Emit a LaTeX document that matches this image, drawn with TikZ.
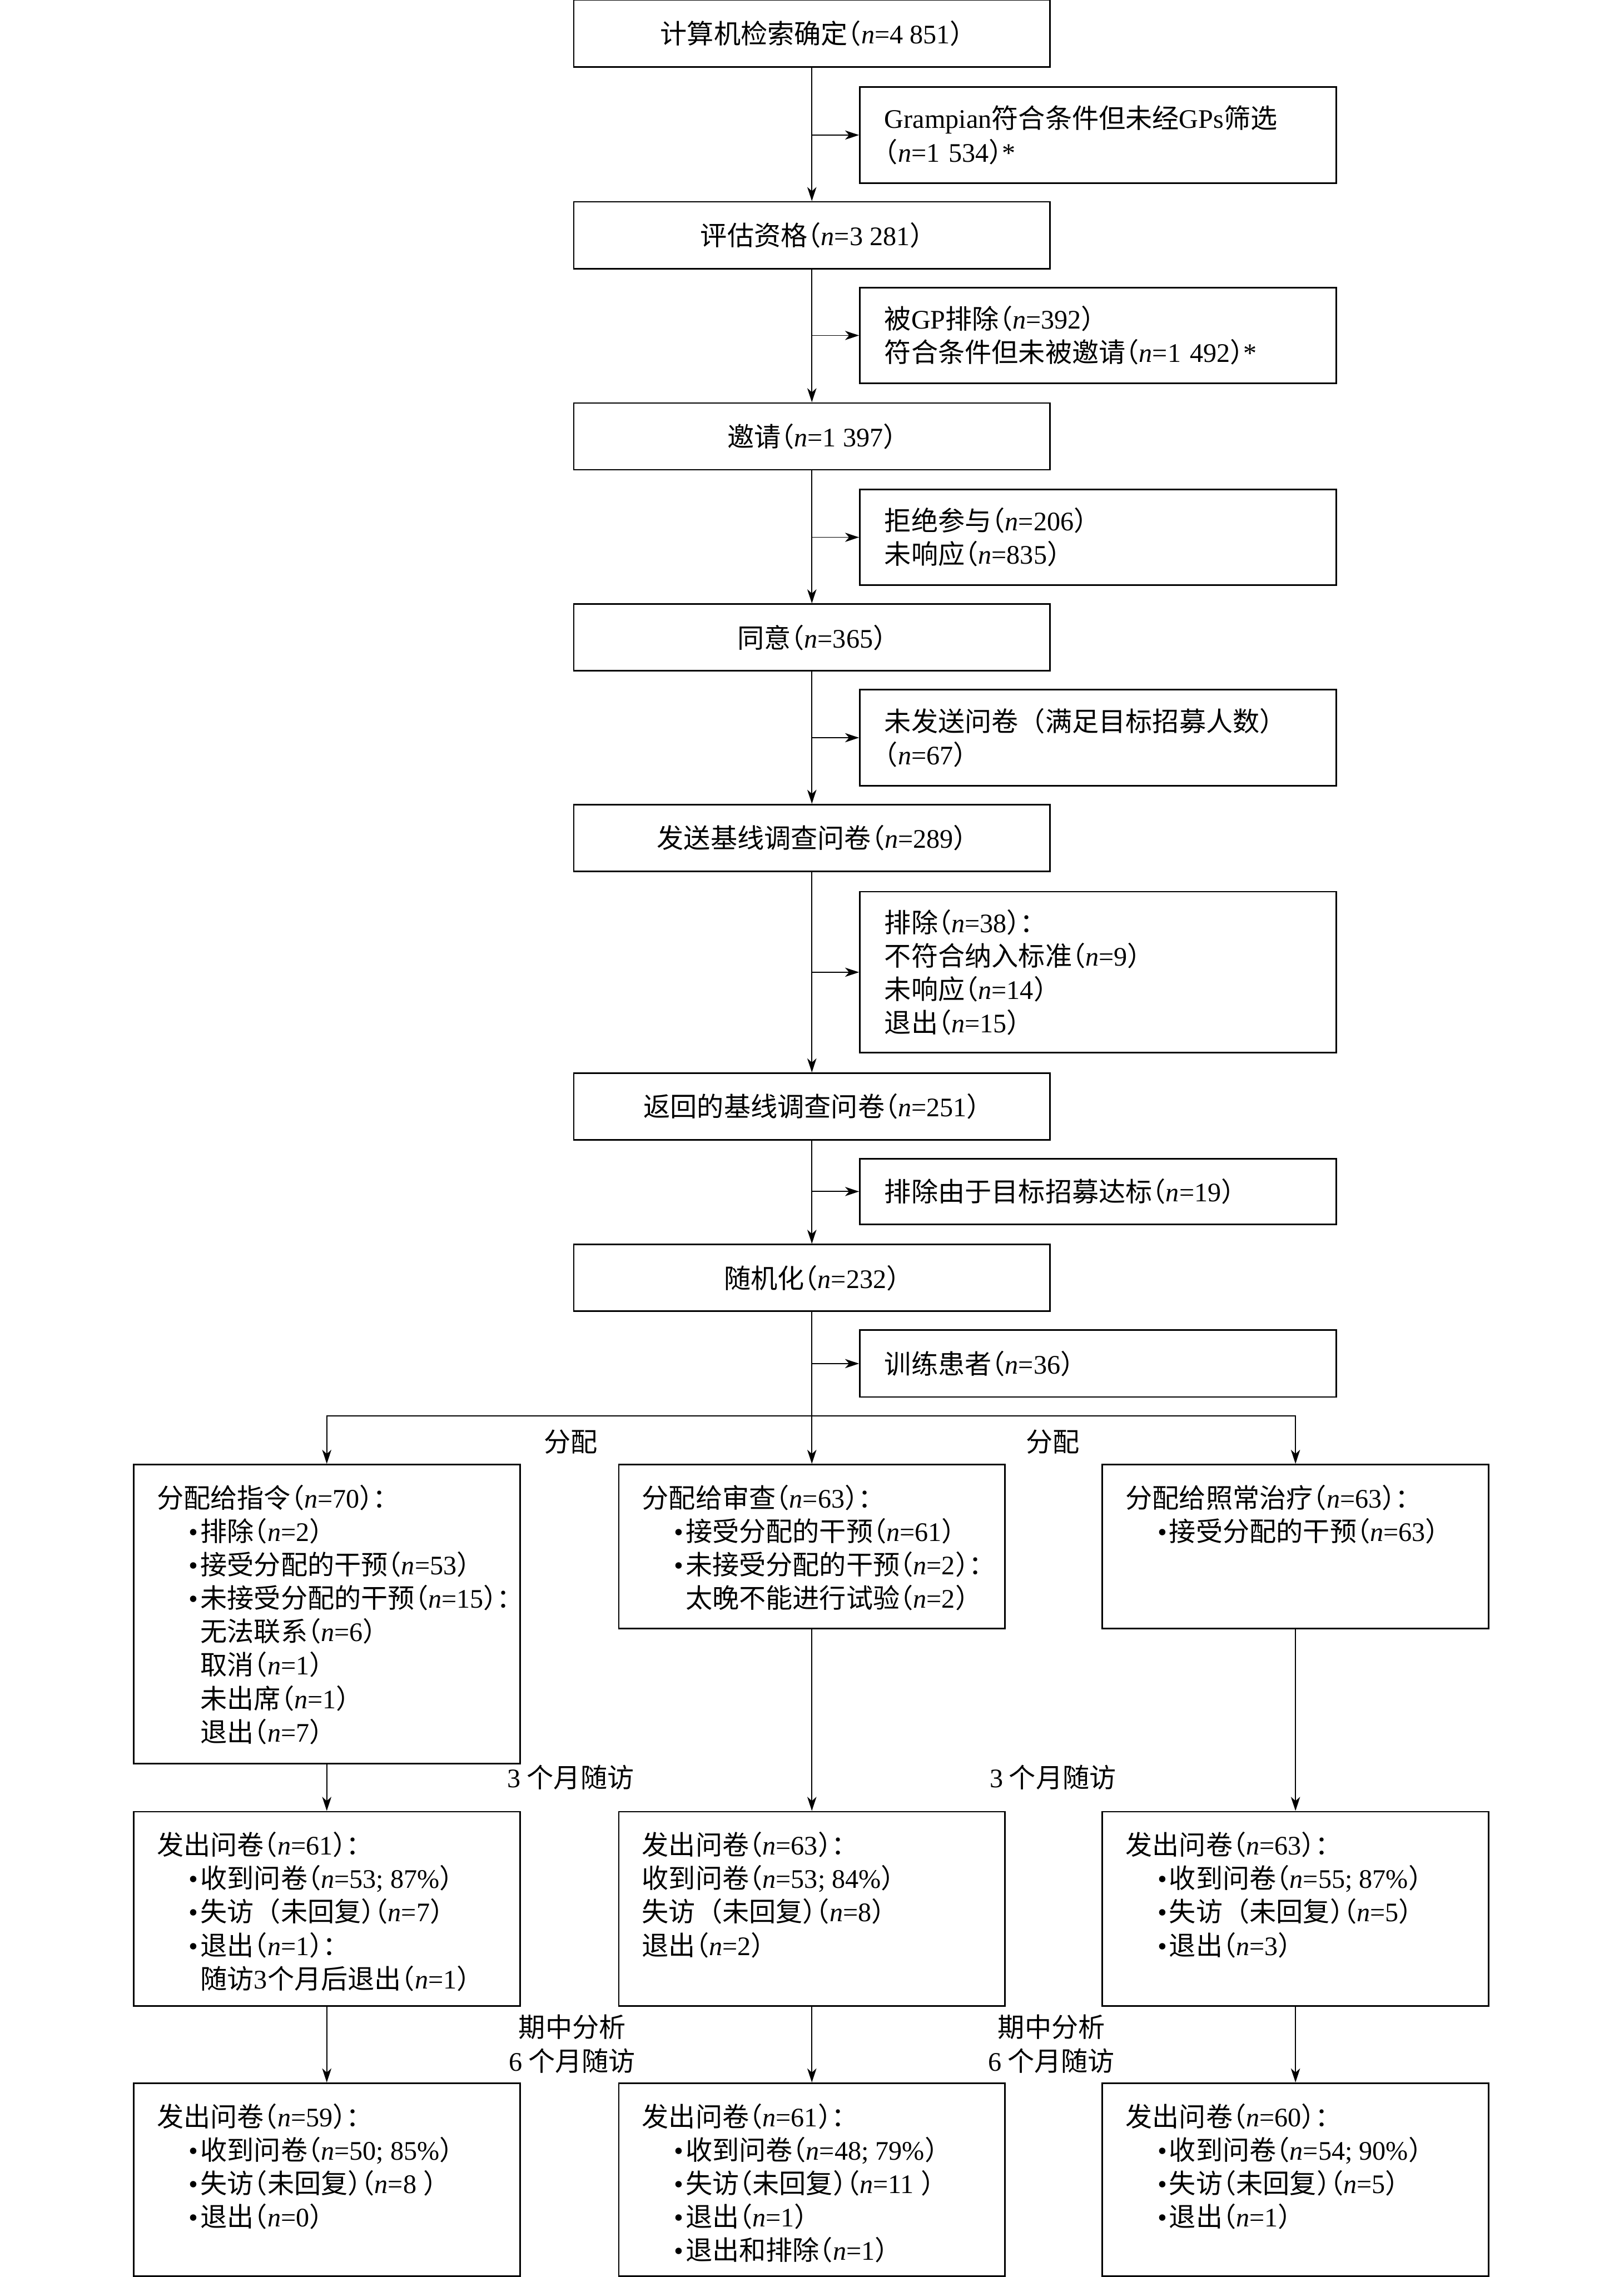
\documentclass[tikz,border=0pt]{standalone}
\usepackage{fontspec}
\setmainfont{Noto Sans CJK SC}[RawFeature=+halt]
\newfontfamily\cjkfull{Noto Sans CJK SC}
\newfontfamily\lat{Liberation Serif}
\usetikzlibrary{arrows.meta}

\newcommand\nval[1]{（{\lat\itshape n}{\lat =#1}）}
\newcommand\wpar{{\cjkfull （}}
\newcommand\itm{\hspace*{0.44cm}\makebox[0.16cm][l]{\lat •}}
\newcommand\subln{\hspace*{0.6cm}}
\newcommand\grptext[2]{\parbox[c][#1][t]{5.32cm}{\leftskip=0.32cm\rightskip=0pt plus 1fil\vspace*{0.28cm}#2}}

\begin{document}
\begin{tikzpicture}[x=0.02cm,y=-0.02cm,
  font=\fontsize{10.5}{13.1}\selectfont,
  box/.style={draw,line width=0.6pt,inner sep=0pt},
  mainbox/.style={box,minimum width=6.56cm,minimum height=0.92cm},
  sidebox/.style={box,minimum width=6.56cm,text width=5.88cm,inner xsep=0.34cm,align=left},
  grpbox/.style={box,anchor=north,minimum width=5.32cm},
  arr/.style={line width=0.4pt,-{Stealth[length=5.5pt,width=3.6pt,inset=1.6pt]}},
  lbl/.style={inner sep=0pt,align=center}]
  \useasboundingbox (0,0) rectangle (1118,1568);

  % screening
  \node[mainbox] (m1) at (559,23) {计算机检索确定\nval{4 851}};
  \node[mainbox] (m2) at (559,162) {评估资格\nval{3 281}};
  \node[mainbox] (m3) at (559,300.5) {邀请\nval{1 397}};
  \node[mainbox] (m4) at (559,439) {同意\nval{365}};
  \node[mainbox] (m5) at (559,577) {发送基线调查问卷\nval{289}};
  \node[mainbox] (m6) at (559,762) {返回的基线调查问卷\nval{251}};
  \node[mainbox] (m7) at (559,880) {随机化\nval{232}};

  \node[sidebox,minimum height=1.32cm] (s1) at (756,93) {{\lat Grampian}符合条件但未经{\lat GPs}筛选\\\nval{1 534}{\lat *}};
  \node[sidebox,minimum height=1.32cm] (s2) at (756,231) {被{\lat GP}排除\nval{392}\\符合条件但未被邀请\nval{1 492}{\lat *}};
  \node[sidebox,minimum height=1.32cm] (s3) at (756,370) {拒绝参与\nval{206}\\未响应\nval{835}};
  \node[sidebox,minimum height=1.32cm] (s4) at (756,508) {未发送问卷\wpar 满足目标招募人数）\\\nval{67}};
  \node[sidebox,minimum height=2.22cm] (s5) at (756,669.5) {排除\nval{38}：\\不符合纳入标准\nval{9}\\未响应\nval{14}\\退出\nval{15}};
  \node[sidebox,minimum height=0.90cm] (s6) at (756,820.5) {排除由于目标招募达标\nval{19}};
  \node[sidebox,minimum height=0.92cm] (s7) at (756,939) {训练患者\nval{36}};

  % allocation
  \node[grpbox] (a1) at (225,1008) {\grptext{4.12cm}{分配给指令\nval{70}：\\\itm 排除\nval{2}\\\itm 接受分配的干预\nval{53}\\\itm 未接受分配的干预\nval{15}：\\\subln 无法联系\nval{6}\\\subln 取消\nval{1}\\\subln 未出席\nval{1}\\\subln 退出\nval{7}}};
  \node[grpbox] (a2) at (559,1008) {\grptext{2.26cm}{分配给审查\nval{63}：\\\itm 接受分配的干预\nval{61}\\\itm 未接受分配的干预\nval{2}：\\\subln 太晚不能进行试验\nval{2}}};
  \node[grpbox] (a3) at (892,1008) {\grptext{2.26cm}{分配给照常治疗\nval{63}：\\\itm 接受分配的干预\nval{63}}};

  % 3 months
  \node[grpbox] (f1) at (225,1247) {\grptext{2.68cm}{发出问卷\nval{61}：\\\itm 收到问卷\nval{53; 87\%}\\\itm 失访\wpar 未回复）\nval{7}\\\itm 退出\nval{1}：\\\subln 随访{\lat 3}个月后退出\nval{1}}};
  \node[grpbox] (f2) at (559,1247) {\grptext{2.68cm}{发出问卷\nval{63}：\\收到问卷\nval{53; 84\%}\\失访\wpar 未回复）\nval{8}\\退出\nval{2}}};
  \node[grpbox] (f3) at (892,1247) {\grptext{2.68cm}{发出问卷\nval{63}：\\\itm 收到问卷\nval{55; 87\%}\\\itm 失访\wpar 未回复）\nval{5}\\\itm 退出\nval{3}}};

  % 6 months
  \node[grpbox] (g1) at (225,1434) {\grptext{2.66cm}{发出问卷\nval{59}：\\\itm 收到问卷\nval{50; 85\%}\\\itm 失访（未回复）\nval{8 }\\\itm 退出\nval{0}}};
  \node[grpbox] (g2) at (559,1434) {\grptext{2.66cm}{发出问卷\nval{61}：\\\itm 收到问卷\nval{48; 79\%}\\\itm 失访（未回复）\nval{11 }\\\itm 退出\nval{1}\\\itm 退出和排除\nval{1}}};
  \node[grpbox] (g3) at (892,1434) {\grptext{2.66cm}{发出问卷\nval{60}：\\\itm 收到问卷\nval{54; 90\%}\\\itm 失访（未回复）\nval{5}\\\itm 退出\nval{1}}};

  \node[lbl] (l1) at (393,993) {分配};
  \node[lbl] (l2) at (725,993) {分配};
  \node[lbl] (l3) at (393,1224) {{\lat 3} 个月随访};
  \node[lbl] (l4) at (725,1224) {{\lat 3} 个月随访};
  \node[lbl] (l5) at (394,1407.5) {期中分析\\{\lat 6} 个月随访};
  \node[lbl] (l6) at (724,1407.5) {期中分析\\{\lat 6} 个月随访};

  % connectors
  \foreach \a/\b in {m1/m2,m2/m3,m3/m4,m4/m5,m5/m6,m6/m7}
    \draw[arr] (\a) -- (\b);
  \foreach \m/\s in {m1/s1,m2/s2,m3/s3,m4/s4,m5/s5,m6/s6,m7/s7}
    \draw[arr] (\m |- \s) -- (\s);
  \coordinate (sp) at (559,975);
  \draw[arr] (m7) -- (a2);
  \draw[arr] (sp) -| (a1);
  \draw[arr] (sp) -| (a3);
  \foreach \a/\b in {a1/f1,a2/f2,a3/f3,f1/g1,f2/g2,f3/g3}
    \draw[arr] (\a) -- (\b);
\end{tikzpicture}
\end{document}
